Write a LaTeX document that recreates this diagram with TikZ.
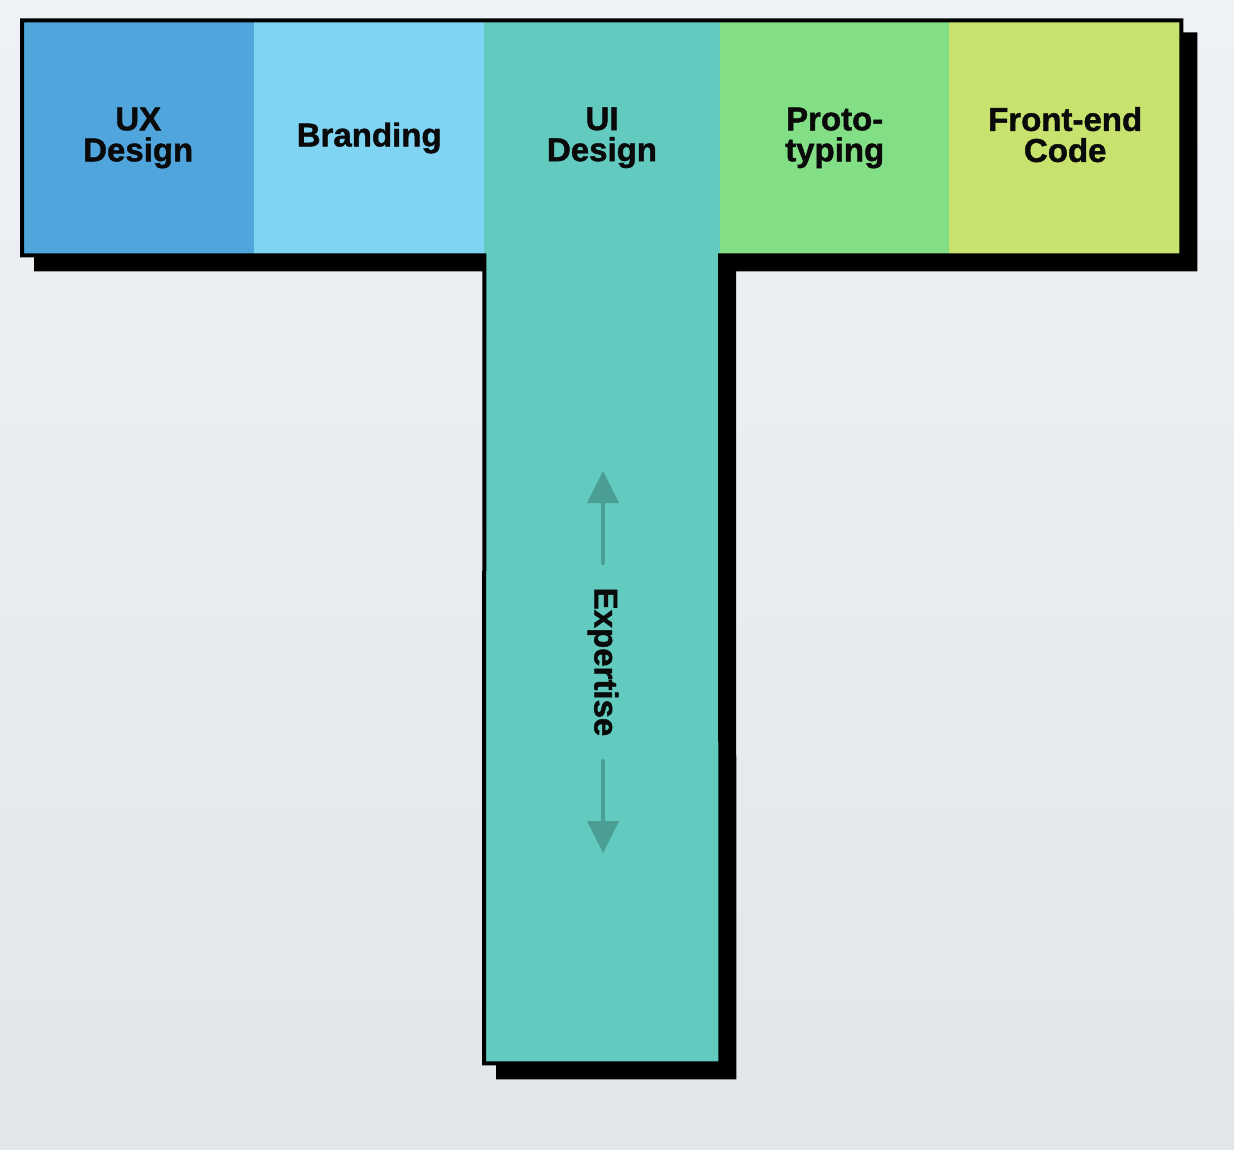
\documentclass[tikz,border=0pt]{standalone}
\usepackage{fontspec}
\setmainfont{Liberation Sans}[BoldFeatures={FakeBold=1.3}]
\usetikzlibrary{arrows.meta}
\definecolor{uxc}{RGB}{80,165,220}
\definecolor{brc}{RGB}{128,212,243}
\definecolor{uic}{RGB}{98,202,190}
\definecolor{prc}{RGB}{130,223,134}
\definecolor{fec}{RGB}{200,226,110}
\definecolor{arc}{RGB}{74,158,147}
\definecolor{bgtop}{RGB}{238,241,245}
\definecolor{bgbot}{RGB}{226,229,234}
\definecolor{ink}{RGB}{10,10,10}
\pgfdeclarelayer{bglayer}
\pgfdeclarelayer{shadowlayer}
\pgfsetlayers{bglayer,shadowlayer,main}
\begin{document}
\begin{tikzpicture}[x=1pt,y=-1pt,
  cell/.style={draw=none, inner sep=0pt, minimum height=234.5pt, anchor=north west},
  lbl/.style={font=\bfseries\fontsize{33}{31}\selectfont, align=center, text=ink, inner sep=0pt},
  outline/.style={draw=black, line width=4pt, line join=miter},
  shadow/.style={fill=black, draw=black, line width=4pt, line join=miter},
  arrowline/.style={draw=arc, line width=4pt, line cap=round, -{Triangle[width=32pt,length=32pt,line width=0pt]}}]
\useasboundingbox (0,0) rectangle (1234,1150);
\begin{pgfonlayer}{bglayer}
\fill[top color=bgtop, bottom color=bgbot] (0,0) rectangle (1234,1150);
\end{pgfonlayer}
% cells
\node[cell, lbl, fill=uxc, minimum width=232pt] (ux) at (22,20.5) {UX\\Design};
\node[cell, lbl, fill=brc, minimum width=230pt] (br) at (254,20.5) {Branding};
\node[cell, fill=uic, minimum width=236pt, minimum height=1042.5pt] (stem) at (484,20.5) {};
\node[cell, lbl, fill=prc, minimum width=229pt] (pr) at (720,20.5) {Proto-\\typing};
\node[cell, lbl, fill=fec, minimum width=232pt] (fe) at (949,20.5) {Front-end\\Code\vphantom{g}};
\node[lbl] (ui) at (602,137.75) {UI\\Design};
% shadow
\begin{pgfonlayer}{shadowlayer}
\path[shadow] ([shift={(14,14)}]ux.north west) -- ([shift={(14,14)}]fe.north east) -- ([shift={(14,14)}]fe.south east)
  -- ([shift={(14,14)}]pr.south west) -- ([shift={(14,14)}]stem.south east) -- ([shift={(14,14)}]stem.south west)
  -- ([shift={(14,14)}]br.south east) -- ([shift={(14,14)}]ux.south west) -- cycle;
\end{pgfonlayer}
% outline
\path[outline] (ux.north west) -- (fe.north east) -- (fe.south east) -- (pr.south west)
  -- (stem.south east) -- (stem.south west) -- (br.south east) -- (ux.south west) -- cycle;
% expertise
\node[lbl, rotate=-90] (ex) at (603,662) {Expertise};
\coordinate (up0) at (603,563);
\coordinate (up1) at (603,471);
\coordinate (dn0) at (603,761);
\coordinate (dn1) at (603,853);
\draw[arrowline] (up0) -- (up1);
\draw[arrowline] (dn0) -- (dn1);
\end{tikzpicture}
\end{document}
